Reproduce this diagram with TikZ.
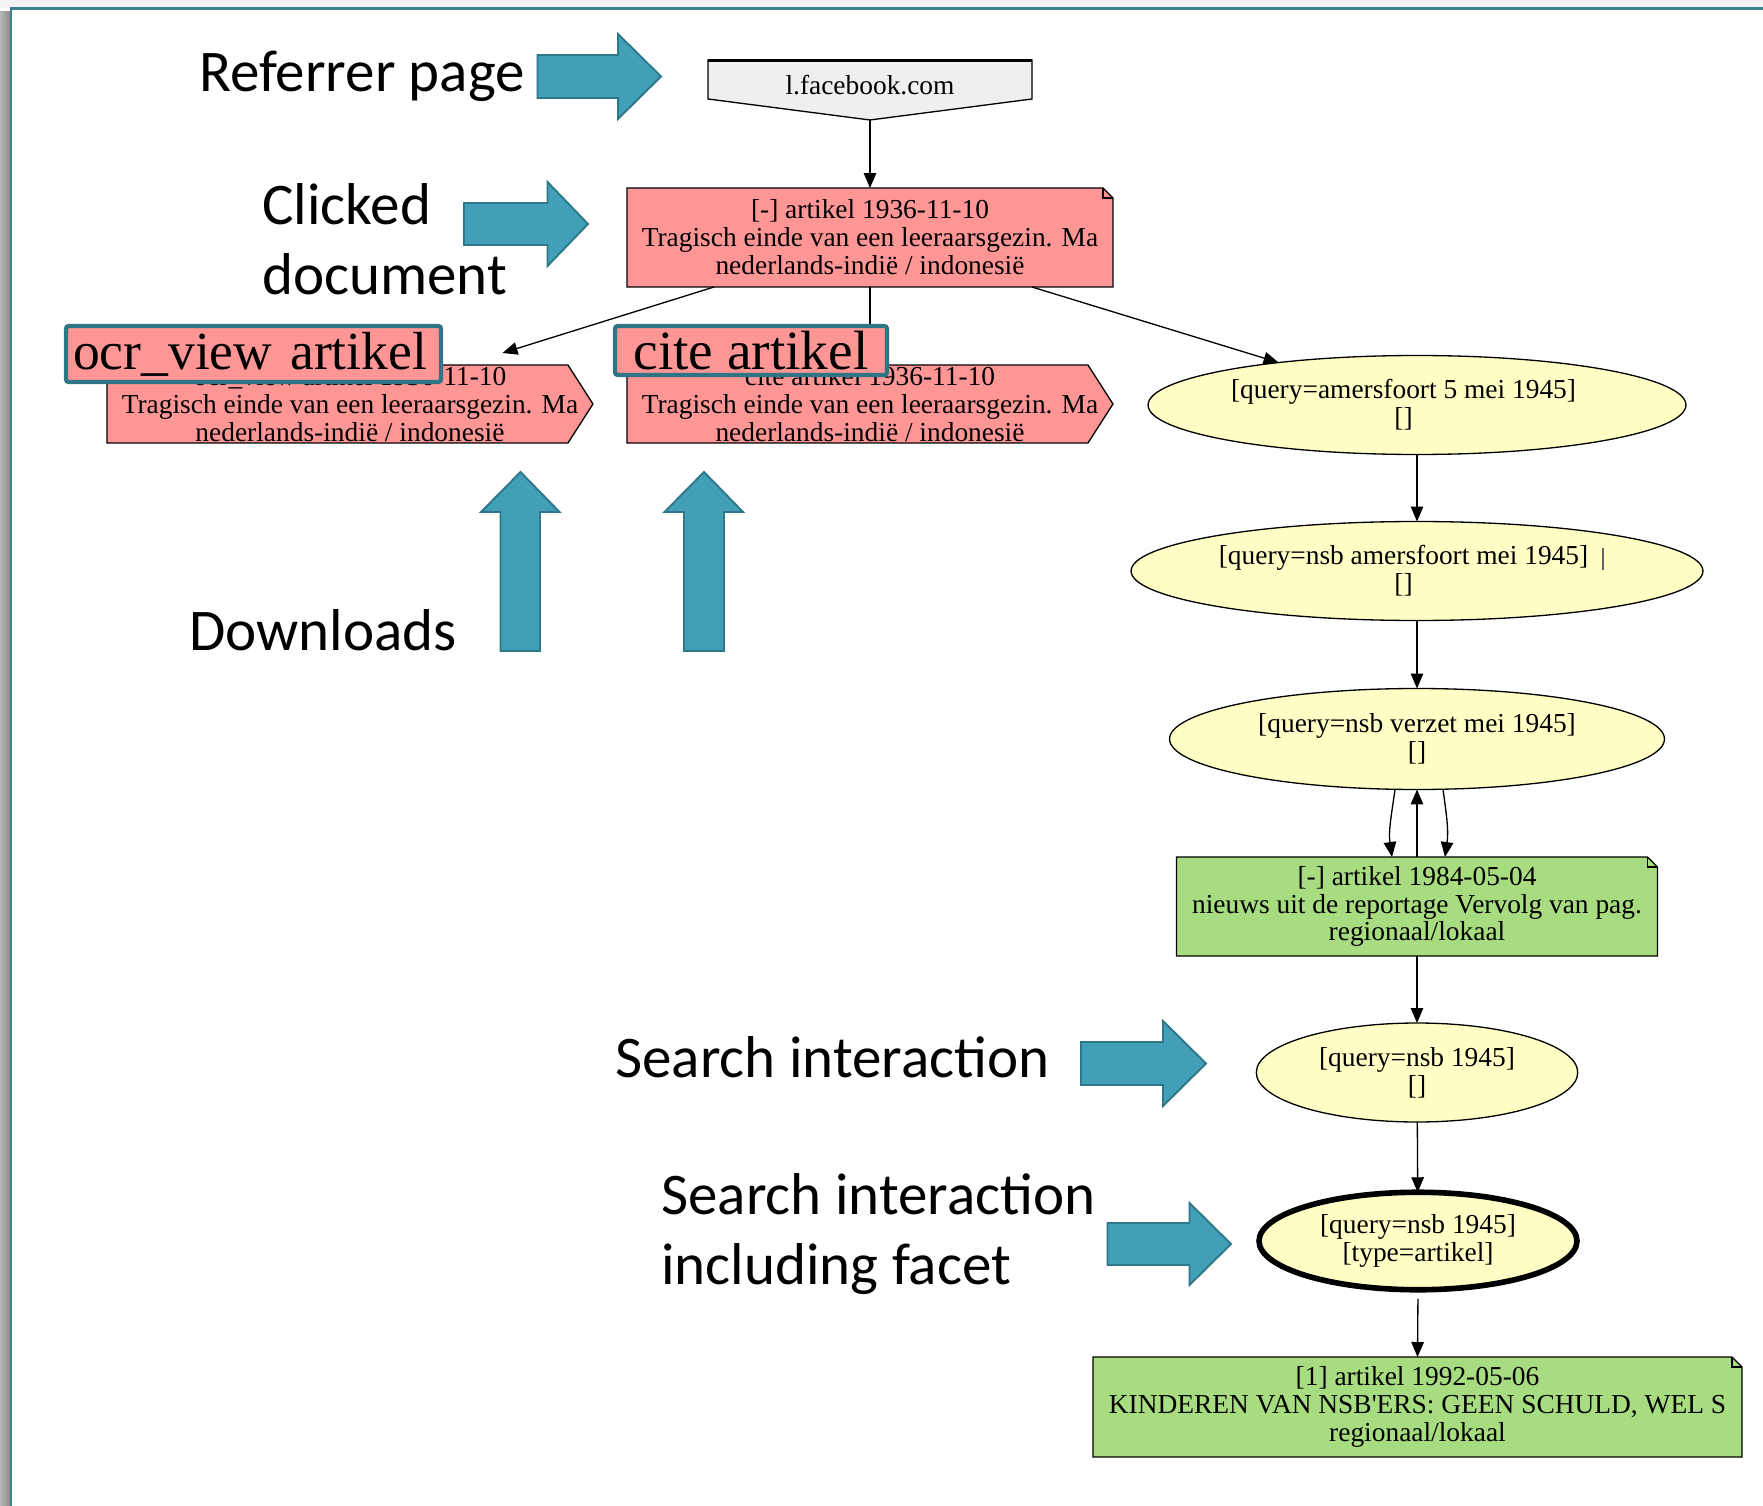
\documentclass[tikz,border=0pt]{standalone}
\usepackage{fontspec}
\setmainfont{Liberation Serif}
\newfontfamily\calibfont{Carlito}
\usetikzlibrary{shapes.geometric,arrows.meta,calc,backgrounds}
\definecolor{redfill}{HTML}{FF9696}
\definecolor{yellowfill}{HTML}{FFFFC5}
\definecolor{greenfill}{HTML}{A8DC80}
\definecolor{fbfill}{HTML}{EFEFEF}
\definecolor{arrowfill}{HTML}{429FB8}
\definecolor{arrowline}{HTML}{2F7889}
\definecolor{overlayline}{HTML}{2E7585}
\definecolor{frameteal}{HTML}{3B7F90}
\definecolor{topgray}{HTML}{F2F2F2}
\begin{document}
\begin{tikzpicture}[x=0.02cm,y=-0.02cm,
  gv/.style={font=\fontsize{15.6}{15.9}\selectfont, align=center, inner sep=0pt, outer sep=0pt},
  ell/.style={gv, ellipse, draw=black, line width=0.75pt, fill=yellowfill},
  shapeline/.style={draw=black, line width=0.75pt, line join=miter},
  edge/.style={draw=black, line width=0.75pt, -{Triangle[length=0.3cm,width=0.25cm]}},
  bluearrow/.style={fill=arrowfill, draw=arrowline, line width=1.1pt, line join=miter},
  lbl/.style={font=\calibfont\fontsize{33.6}{40}\selectfont, anchor=base west, inner sep=0pt},
  overlay/.style={draw=overlayline, line width=2.4pt, fill=redfill, rounded corners=1.5pt, inner ysep=0pt}]
\useasboundingbox (0,0) rectangle (1763,1506);

% graph nodes
\node[gv] (fb) at (870,85) {l.facebook.com};
\coordinate (fbtip) at (870,120);
\node[gv, minimum width=9.72cm, minimum height=1.98cm] (clicked) at (870,237.5)
  {{[-] artikel 1936-11-10}\\Tragisch einde van een leeraarsgezin. Ma\\nederlands-indië / indonesië};
\node[gv, minimum width=9.72cm, minimum height=1.56cm] (ocr) at (350,404)
  {ocr\_view artikel 1936-11-10\\Tragisch einde van een leeraarsgezin. Ma\\nederlands-indië / indonesië};
\node[gv, minimum width=9.72cm, minimum height=1.56cm] (cite) at (870,404)
  {cite artikel 1936-11-10\\Tragisch einde van een leeraarsgezin. Ma\\nederlands-indië / indonesië};
\node[ell, minimum width=10.76cm, minimum height=1.98cm] (amers) at (1417,405)
  {{[query=amersfoort 5 mei 1945]}\hspace*{0.54cm}\\{[]}\hspace*{0.54cm}};
\node[ell, minimum width=11.44cm, minimum height=1.98cm] (nsbam) at (1417,571)
  {{[query=nsb amersfoort mei 1945]}\hspace*{0.54cm}\\{[]}\hspace*{0.54cm}};
\node[ell, minimum width=9.9cm, minimum height=2.02cm] (verzet) at (1417,739)
  {{[query=nsb verzet mei 1945]}\\{[]}};
\node[gv, minimum width=9.62cm, minimum height=1.98cm] (g1984) at (1417,906.5)
  {{[-] artikel 1984-05-04}\\nieuws uit de reportage Vervolg van pag.\\regionaal/lokaal};
\node[ell, minimum width=6.43cm, minimum height=1.98cm] (nsb) at (1417,1072.5)
  {{[query=nsb 1945]}\\{[]}};
\node[ell, line width=3.2pt, minimum width=6.36cm, minimum height=1.95cm] (facet) at (1418,1241)
  {{[query=nsb 1945]}\\{[type=artikel]}};
\node[gv, minimum width=12.98cm, minimum height=2cm] (final) at (1417.5,1407)
  {{[1] artikel 1992-05-06}\\KINDEREN VAN NSB\textquotesingle ERS: GEEN SCHULD, WEL S\\regionaal/lokaal};

% slide frame and node outlines behind the texts
\begin{scope}[on background layer]
  \fill[topgray] (0,0) rectangle (1763,8);
  \shade[left color=black!28, right color=black!45] (0,12) rectangle (10,1506);
  \draw[frameteal, line width=1.6pt] (11,1506) -- (11,8.5) -- (1763,8.5);
  \filldraw[shapeline, fill=fbfill] (708,60) -- (1032,60) -- (1032,99) -- (fbtip) -- (708,99) -- cycle;
  \draw[black, line width=1.3pt] (708,60.5) -- (1032,60.5);
  \filldraw[shapeline, fill=redfill] (clicked.north west) -- ($(clicked.north east)+(-10,0)$)
    -- ($(clicked.north east)+(0,10)$) -- (clicked.south east) -- (clicked.south west) -- cycle;
  \draw[shapeline] ($(clicked.north east)+(-10,0)$) |- ($(clicked.north east)+(0,10)$);
  \filldraw[shapeline, fill=redfill] (ocr.north west) -- ($(ocr.north east)+(-25,0)$) -- (ocr.east)
    -- ($(ocr.south east)+(-25,0)$) -- (ocr.south west) -- cycle;
  \filldraw[shapeline, fill=redfill] (cite.north west) -- ($(cite.north east)+(-25,0)$) -- (cite.east)
    -- ($(cite.south east)+(-25,0)$) -- (cite.south west) -- cycle;
  \filldraw[shapeline, fill=greenfill] (g1984.north west) -- ($(g1984.north east)+(-10,0)$)
    -- ($(g1984.north east)+(0,10)$) -- (g1984.south east) -- (g1984.south west) -- cycle;
  \draw[shapeline] ($(g1984.north east)+(-10,0)$) |- ($(g1984.north east)+(0,10)$);
  \filldraw[shapeline, fill=greenfill] (final.north west) -- ($(final.north east)+(-10,0)$)
    -- ($(final.north east)+(0,10)$) -- (final.south east) -- (final.south west) -- cycle;
  \draw[shapeline] ($(final.north east)+(-10,0)$) |- ($(final.north east)+(0,10)$);
\end{scope}
\draw[black!60, line width=1.2pt] (1603,548) -- (1603,570);

% graph edges
\draw[edge] (fbtip) -- (clicked.north);
\draw[edge, shorten >=0.806cm] ($(clicked.south west)+(87,0)$) -- ($(ocr.north west)+(357,0)$);
\draw[edge] (clicked.south) -- (cite.north);
\draw[edge] ($(clicked.south east)+(-81,0)$) -- (amers);
\draw[edge] (amers) -- (nsbam);
\draw[edge] (nsbam) -- (verzet);
\draw[edge] ($(verzet.south)+(-22,0)$) to[out=262,in=98] ($(g1984.north)+(-25,0)$);
\draw[edge] (g1984.north) -- (verzet.south);
\draw[edge] ($(verzet.south)+(26,0)$) to[out=278,in=82] ($(g1984.north)+(28,0)$);
\draw[edge] (g1984) -- (nsb);
\draw[edge] (nsb) -- (facet);
\draw[edge, shorten <=0.18cm] (facet.south) -- (final.north);

% overlay labels
\node[overlay, text width=7.22cm, inner xsep=0.14cm, minimum height=1.12cm, align=left,
  font=\fontsize{30.5}{31}\selectfont] (ocrlbl) at (253.5,354) {ocr\_view artikel};
\node[overlay, minimum width=5.44cm, minimum height=0.98cm, inner xsep=0pt,
  font=\fontsize{31.5}{32}\selectfont] (citelbl) at (751,350.5) {cite artikel};

% blue annotation arrows
\draw[bluearrow] (537.5,55) -- (618,55) -- (618,34) -- (661,76.5) -- (618,119) -- (618,98) -- (537.5,98) -- cycle;
\draw[bluearrow] (464,203) -- (547.5,203) -- (547.5,182) -- (588,224) -- (547.5,266) -- (547.5,245) -- (464,245) -- cycle;
\draw[bluearrow] (500.5,651) -- (500.5,512) -- (481,512) -- (520.5,472) -- (559.5,512) -- (540,512) -- (540,651) -- cycle;
\draw[bluearrow] (684,651) -- (684,512) -- (664.5,512) -- (704,472) -- (743,512) -- (724,512) -- (724,651) -- cycle;
\draw[bluearrow] (1081,1042) -- (1163,1042) -- (1163,1021) -- (1206,1063.5) -- (1163,1106) -- (1163,1085) -- (1081,1085) -- cycle;
\draw[bluearrow] (1107.5,1223) -- (1189.5,1223) -- (1189.5,1203) -- (1231,1244) -- (1189.5,1285) -- (1189.5,1265) -- (1107.5,1265) -- cycle;

% annotation texts
\node[lbl] (lref) at (199,92) {Referrer page};
\node[lbl] (lclick) at (262,225) {Clicked};
\node[lbl] (ldoc) at (262,294.6) {document};
\node[lbl] (ldown) at (189,650) {Downloads};
\node[lbl] (lsearch) at (615,1077) {Search interaction};
\node[lbl] (lsearch2) at (661,1214) {Search interaction};
\node[lbl] (lfacet) at (661,1284) {including facet};
\end{tikzpicture}
\end{document}
